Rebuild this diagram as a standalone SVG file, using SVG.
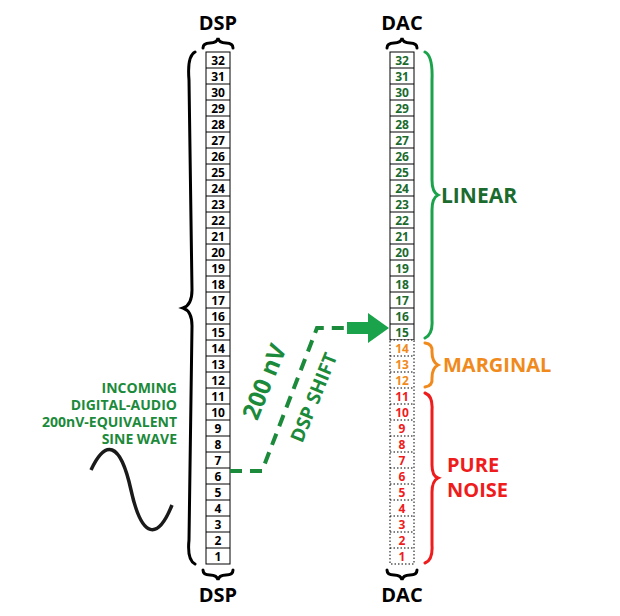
<svg xmlns="http://www.w3.org/2000/svg" width="620" height="616" viewBox="0 0 620 616">
<style>
text{font-family:"Open Sans","Liberation Sans",sans-serif;font-weight:bold}
.c{fill:#fff;stroke:#000;stroke-width:1}
.d{fill:#fff;stroke:#000;stroke-width:1;stroke-dasharray:1.5 2}
.n{font-size:12px;text-anchor:middle}
.lbl{font-size:20px;text-anchor:middle}
.br{fill:none;stroke-width:3;stroke-linecap:round}
</style>
<rect width="620" height="616" fill="#fff"/>
<g id="dsp">
<text class="lbl" x="218" y="30">DSP</text>
<text class="lbl" x="218" y="602">DSP</text>
<path class="br" stroke="#000" stroke-width="2" d="M203 48 q0 -5 7 -5 q7 0 8 -5 q1 5 8 5 q7 0 7 5"/>
<path class="br" stroke="#000" stroke-width="2" d="M203 570 q0 5 7 5 q7 0 8 5 q1 -5 8 -5 q7 0 7 -5"/>
</g>
<g id="dac">
<text class="lbl" x="402" y="30">DAC</text>
<text class="lbl" x="402" y="602">DAC</text>
<path class="br" stroke="#000" stroke-width="2" d="M387 48 q0 -5 7 -5 q7 0 8 -5 q1 5 8 5 q7 0 7 5"/>
<path class="br" stroke="#000" stroke-width="2" d="M387 570 q0 5 7 5 q7 0 8 5 q1 -5 8 -5 q7 0 7 -5"/>
</g>
<g id="cells">
<rect class="c" x="206" y="52" width="24" height="512"/>
<path stroke="#000" d="M206 68H230M206 84H230M206 100H230M206 116H230M206 132H230M206 148H230M206 164H230M206 180H230M206 196H230M206 212H230M206 228H230M206 244H230M206 260H230M206 276H230M206 292H230M206 308H230M206 324H230M206 340H230M206 356H230M206 372H230M206 388H230M206 404H230M206 420H230M206 436H230M206 452H230M206 468H230M206 484H230M206 500H230M206 516H230M206 532H230M206 548H230"/>
<rect class="c" x="390" y="52" width="24" height="288"/>
<path stroke="#000" d="M390 68H414M390 84H414M390 100H414M390 116H414M390 132H414M390 148H414M390 164H414M390 180H414M390 196H414M390 212H414M390 228H414M390 244H414M390 260H414M390 276H414M390 292H414M390 308H414M390 324H414"/>
<rect class="d" x="390" y="340" width="24" height="224"/>
<path stroke="#000" stroke-dasharray="1.5 2" d="M390 356H414M390 372H414M390 388H414M390 404H414M390 420H414M390 436H414M390 452H414M390 468H414M390 484H414M390 500H414M390 516H414M390 532H414M390 548H414"/>
</g>
<g>
<text class="n" x="218" y="65">32</text><text class="n" x="218" y="81">31</text><text class="n" x="218" y="97">30</text><text class="n" x="218" y="113">29</text><text class="n" x="218" y="129">28</text><text class="n" x="218" y="145">27</text><text class="n" x="218" y="161">26</text><text class="n" x="218" y="177">25</text><text class="n" x="218" y="193">24</text><text class="n" x="218" y="209">23</text><text class="n" x="218" y="225">22</text><text class="n" x="218" y="241">21</text><text class="n" x="218" y="257">20</text><text class="n" x="218" y="273">19</text><text class="n" x="218" y="289">18</text><text class="n" x="218" y="305">17</text><text class="n" x="218" y="321">16</text><text class="n" x="218" y="337">15</text><text class="n" x="218" y="353">14</text><text class="n" x="218" y="369">13</text><text class="n" x="218" y="385">12</text><text class="n" x="218" y="401">11</text><text class="n" x="218" y="417">10</text><text class="n" x="218" y="433">9</text><text class="n" x="218" y="449">8</text><text class="n" x="218" y="465">7</text><text class="n" x="218" y="481">6</text><text class="n" x="218" y="497">5</text><text class="n" x="218" y="513">4</text><text class="n" x="218" y="529">3</text><text class="n" x="218" y="545">2</text><text class="n" x="218" y="561">1</text>
</g>
<g fill="#1b6b2e">
<text class="n" x="402" y="65">32</text><text class="n" x="402" y="81">31</text><text class="n" x="402" y="97">30</text><text class="n" x="402" y="113">29</text><text class="n" x="402" y="129">28</text><text class="n" x="402" y="145">27</text><text class="n" x="402" y="161">26</text><text class="n" x="402" y="177">25</text><text class="n" x="402" y="193">24</text><text class="n" x="402" y="209">23</text><text class="n" x="402" y="225">22</text><text class="n" x="402" y="241">21</text><text class="n" x="402" y="257">20</text><text class="n" x="402" y="273">19</text><text class="n" x="402" y="289">18</text><text class="n" x="402" y="305">17</text><text class="n" x="402" y="321">16</text><text class="n" x="402" y="337">15</text>
</g>
<g fill="#f08a1c">
<text class="n" x="402" y="353">14</text><text class="n" x="402" y="369">13</text><text class="n" x="402" y="385">12</text>
</g>
<g fill="#ee1c1c">
<text class="n" x="402" y="401">11</text><text class="n" x="402" y="417">10</text><text class="n" x="402" y="433">9</text><text class="n" x="402" y="449">8</text><text class="n" x="402" y="465">7</text><text class="n" x="402" y="481">6</text><text class="n" x="402" y="497">5</text><text class="n" x="402" y="513">4</text><text class="n" x="402" y="529">3</text><text class="n" x="402" y="545">2</text><text class="n" x="402" y="561">1</text>
</g>
<g id="braces">
<path class="br" stroke="#000" d="M195 52 Q187 56 189 80 L192 290 Q192 305 183 308 Q192 311 192 326 L189 540 Q187 560 195 564"/>
<path class="br" stroke="#1aa34a" d="M425 52 Q433 56 432 80 L432 180 Q432 192 438 195 Q432 198 432 210 L432 320 Q433 334 425 338"/>
<path class="br" stroke="#f08a1c" d="M425 343 Q433 344 432 352 Q432 362 438 365 Q432 368 432 378 Q433 386 425 387"/>
<path class="br" stroke="#ee1c1c" d="M425 393 Q433 396 432 410 L432 465 Q432 476 438 478 Q432 481 432 492 L432 545 Q433 560 425 563"/>
</g>
<g id="labels">
<text x="441" y="203" font-size="21" fill="#1b6b2e">LINEAR</text>
<text x="443" y="372" font-size="20" fill="#f08a1c">MARGINAL</text>
<text x="447" y="472" font-size="20" fill="#ee1c1c">PURE</text>
<text x="447" y="497" font-size="20" fill="#ee1c1c">NOISE</text>
<g font-size="14" fill="#1b8a3a" text-anchor="end">
<text x="177" y="393">INCOMING</text>
<text x="177" y="410">DIGITAL-AUDIO</text>
<text x="177" y="427">200nV-EQUIVALENT</text>
<text x="177" y="444">SINE WAVE</text>
</g>
<text transform="translate(272,385) rotate(-68)" font-size="24" fill="#1b8a3a" text-anchor="middle">200 nV</text>
<text transform="translate(320,400) rotate(-68)" font-size="19" fill="#1b8a3a" text-anchor="middle">DSP SHIFT</text>
</g>
<g id="sine">
<path fill="none" stroke="#1a1a1a" stroke-width="3.5" d="M91 470 C 105 440, 120 440, 131 490 C 142 540, 158 540, 172 505"/>
</g>
<g id="connectors">
<path fill="none" stroke="#1b8a3a" stroke-width="4" stroke-dasharray="12 8" d="M230 471 H262 L317 328 H347"/>
<path fill="#1aa34a" d="M347 322 H368 V313 L389 328 L368 343 V334 H347 Z"/>
</g>
</svg>
